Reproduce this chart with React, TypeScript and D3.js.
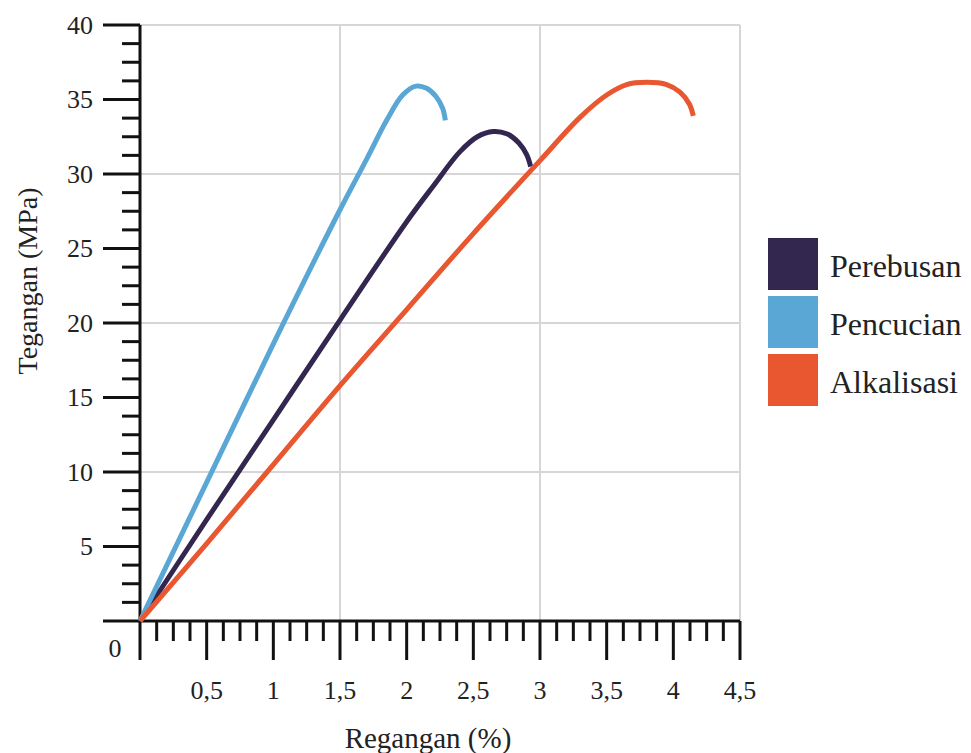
import React from "react";
import * as d3 from "d3";

const width = 971;
const height = 753;
const margin = { top: 25, right: 231, bottom: 132, left: 140 };

const seriesNames = ["Perebusan", "Pencucian", "Alkalisasi"];
const seriesColors = ["#33264f", "#5aa7d6", "#e8572f"];

// [regangan (%), tegangan (MPa)]
const perebusan: [number, number][] = [
  [0, 0], [0.5, 6.8], [1, 13.5], [1.5, 20.2], [2, 26.8], [2.2, 29.2],
  [2.4, 31.5], [2.53, 32.5], [2.65, 32.85], [2.75, 32.7], [2.84, 32.1], [2.9, 31.3], [2.93, 30.5],
];
const pencucian: [number, number][] = [
  [0, 0], [0.5, 9.3], [1, 18.6], [1.5, 27.6], [1.7, 31.0], [1.85, 33.6],
  [1.97, 35.3], [2.07, 35.9], [2.15, 35.75], [2.22, 35.2], [2.27, 34.4], [2.29, 33.6],
];
const alkalisasi: [number, number][] = [
  [0, 0], [0.5, 5.2], [1, 10.5], [1.5, 15.8], [2, 20.9], [2.5, 26.0],
  [3, 30.9], [3.3, 33.8], [3.5, 35.3], [3.65, 36.0], [3.8, 36.15], [3.95, 36.0],
  [4.05, 35.5], [4.12, 34.7], [4.15, 33.9],
];
const seriesData = [perebusan, pencucian, alkalisasi];

const xMajor = [0.5, 1, 1.5, 2, 2.5, 3, 3.5, 4, 4.5];
const xLabels = ["0,5", "1", "1,5", "2", "2,5", "3", "3,5", "4", "4,5"];
const yMajor = [5, 10, 15, 20, 25, 30, 35, 40];
const xGrid = [1.5, 3, 4.5];
const yGrid = [10, 20, 30, 40];

const font = "'Liberation Serif', 'Times New Roman', serif";

export default function App() {
  const x = d3.scaleLinear().domain([0, 4.5]).range([margin.left, width - margin.right]);
  const y = d3.scaleLinear().domain([0, 40]).range([height - margin.bottom, margin.top]);
  const line = d3
    .line<[number, number]>()
    .x(d => x(d[0]))
    .y(d => y(d[1]))
    .curve(d3.curveCatmullRom.alpha(0.5));

  const xMinor = d3.range(0, 36).map(i => i * 0.125).filter(v => v % 0.5 !== 0);
  const yMinor = d3.range(0, 33).map(i => i * 1.25).filter(v => v % 5 !== 0);
  const x0 = x(0);
  const y0 = y(0);

  return (
    <svg width={width} height={height} style={{ position: "absolute", left: 0, top: 0, background: "#fff" }}>
      {/* grid */}
      {xGrid.map(v => (
        <line key={"gx" + v} x1={x(v)} x2={x(v)} y1={y(40)} y2={y0} stroke="#d6d6d6" strokeWidth={2} />
      ))}
      {yGrid.map(v => (
        <line key={"gy" + v} x1={x0} x2={x(4.5)} y1={y(v)} y2={y(v)} stroke="#d6d6d6" strokeWidth={2} />
      ))}

      {/* axes */}
      <g stroke="#111" strokeWidth={3}>
        <line x1={x0} x2={x0} y1={y(40)} y2={y0 + 39} />
        <line x1={x0 - 37} x2={x(4.5)} y1={y0} y2={y0} />
        {yMajor.map(v => (
          <line key={"ym" + v} x1={x0 - 37} x2={x0} y1={y(v)} y2={y(v)} />
        ))}
        {yMinor.map(v => (
          <line key={"yn" + v} x1={x0 - 18} x2={x0} y1={y(v)} y2={y(v)} />
        ))}
        {xMajor.map(v => (
          <line key={"xm" + v} x1={x(v)} x2={x(v)} y1={y0} y2={y0 + 39} />
        ))}
        {xMinor.map(v => (
          <line key={"xn" + v} x1={x(v)} x2={x(v)} y1={y0} y2={y0 + 20} />
        ))}
      </g>

      {/* tick labels */}
      <g fontFamily={font} fontSize={26} fill="#222">
        {yMajor.map(v => (
          <text key={"yl" + v} x={x0 - 47} y={y(v)} textAnchor="end" dominantBaseline="central">
            {v}
          </text>
        ))}
        <text x={115} y={y0 + 27} textAnchor="middle" dominantBaseline="central">0</text>
        {xMajor.map((v, i) => (
          <text key={"xl" + v} x={x(v)} y={y0 + 69} textAnchor="middle" dominantBaseline="central">
            {xLabels[i]}
          </text>
        ))}
      </g>

      {/* axis titles */}
      <text x={428} y={738} textAnchor="middle" dominantBaseline="central" fontFamily={font} fontSize={29} fill="#222">
        Regangan (%)
      </text>
      <text
        transform={`translate(27,281) rotate(-90)`}
        textAnchor="middle"
        dominantBaseline="central"
        fontFamily={font}
        fontSize={28}
        fill="#222"
      >
        Tegangan (MPa)
      </text>

      {/* curves */}
      {seriesData.map((d, i) => (
        <path key={seriesNames[i]} d={line(d) || ""} fill="none" stroke={seriesColors[i]} strokeWidth={5} strokeLinecap="butt" strokeLinejoin="round" />
      ))}

      {/* legend */}
      <g fontFamily={font} fontSize={32} fill="#222">
        {seriesNames.map((name, i) => (
          <g key={name} transform={`translate(768, ${238 + i * 58})`}>
            <rect width={50} height={52} fill={seriesColors[i]} />
            <text x={62} y={28} dominantBaseline="central">{name}</text>
          </g>
        ))}
      </g>
    </svg>
  );
}
